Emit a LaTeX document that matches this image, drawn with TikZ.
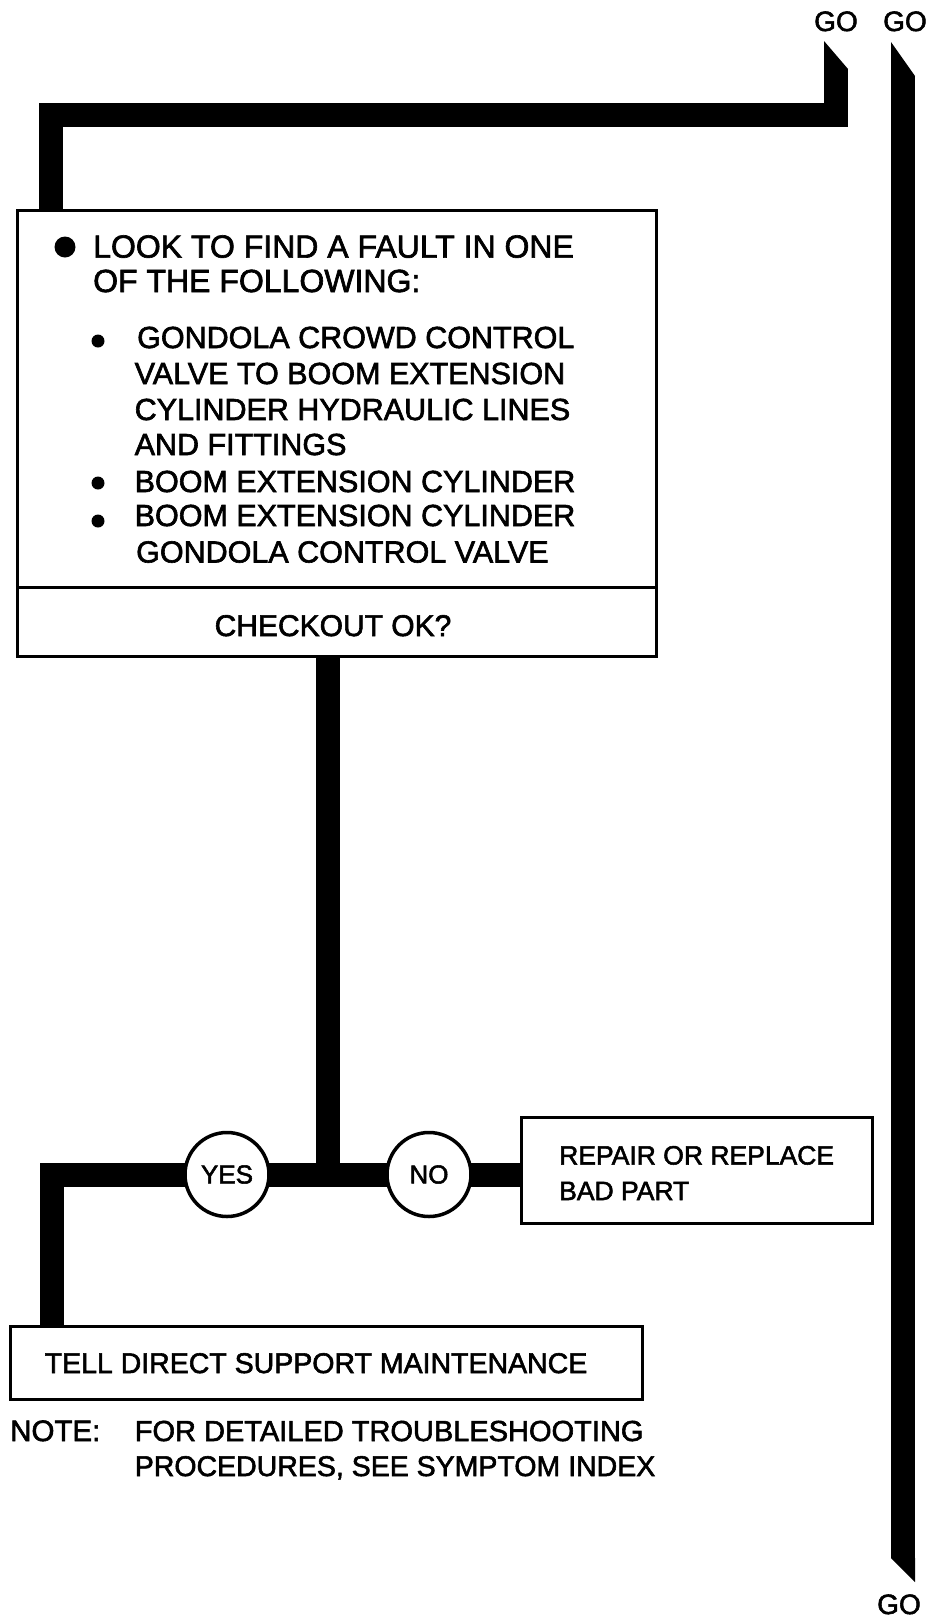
\documentclass[tikz,border=0pt]{standalone}
\usepackage{fontspec}
\setmainfont{Liberation Sans}[AutoFakeBold=2]
\usetikzlibrary{positioning,calc,backgrounds}
\tikzset{
  bar/.style={line width=24pt,line join=miter,line cap=butt},
  frame/.style={draw,line width=3pt,fill=white,inner sep=0pt},
  answer/.style={circle,draw,line width=3.5pt,fill=white,minimum size=84pt,inner sep=0pt,font=\fontsize{26}{30}\selectfont\bfseries},
  txt/.style={inner sep=0pt,anchor=base west,font=\fontsize{31}{36}\selectfont\bfseries},
  small/.style={inner sep=0pt,anchor=base west,font=\fontsize{28.5}{34}\selectfont\bfseries},
  gotxt/.style={inner sep=0pt,anchor=base,font=\fontsize{28}{32}\selectfont\bfseries},
}

\begin{document}
\begin{tikzpicture}[x=1pt,y=-1pt]
  \useasboundingbox (0,0) rectangle (937,1623);
  % boxes
  \node[frame,minimum width=639pt,minimum height=377pt] (look) at (336.5,398.5) {};
  \node[frame,minimum width=639pt,minimum height=69pt] (check) at (336.5,621.5) {};
  \node[frame,minimum width=351pt,minimum height=106pt] (repair) at (696.5,1170) {};
  \node[frame,minimum width=632pt,minimum height=73pt] (tell) at (326,1362.5) {};
  % yes / no
  \node[answer] (yes) at (227,1174.5) {YES};
  \node[answer] (no) at (429,1174.5) {NO};
  % go labels
  \node[gotxt] (goA) at (836,31) {GO};
  \node[gotxt] (goB) at (905,31) {GO};
  \node[gotxt] (goC) at (899,1614) {GO};
  % bends and bar ends
  \coordinate (tipA) at (836,69);
  \coordinate (elbowA) at (50.5,114.5);
  \coordinate (split) at (328,1174.5);
  \coordinate (elbowB) at (52,1174.5);
  \coordinate (tipB) at (903,76);
  \coordinate (tipC) at (903,1558);
  % thick flow bars
  \begin{scope}[on background layer]
    \draw[bar] (tipA) |- (elbowA) -- (elbowA |- look.north);
    \draw[bar] (check.south -| split) -- (split);
    \draw[bar] (elbowB |- tell.north) |- (yes.center) -- (no.center) -- (repair.west |- no.center);
    \draw[bar] (tipB) -- (tipC);
  \end{scope}
  % slanted ends
  \fill ($(tipA)+(-12,0)$) -- ++(0,-28) -- ($(tipA)+(12,0)$) -- cycle;
  \fill ($(tipB)+(-12,0)$) -- ++(0,-34) -- ($(tipB)+(12,0)$) -- cycle;
  \fill ($(tipC)+(-12,0)$) -- ($(tipC)+(12,0)$) -- ++(0,24) -- cycle;
  % main box text
  \fill (65,247) circle (10.5pt);
  \foreach \y/\t [count=\i] in {257.6/LOOK TO FIND A FAULT IN ONE, 292/OF THE FOLLOWING:}
    \node[txt,font=\fontsize{32}{36}\selectfont\bfseries] (head\i) at (93,\y) {\t};
  \foreach \p in {341,483,521} \fill (98,\p) circle (6.5pt);
  \foreach \x/\y/\t [count=\i] in {137/348/GONDOLA CROWD CONTROL, 134.5/384/VALVE TO BOOM EXTENSION,
      134.5/420/CYLINDER HYDRAULIC LINES, 134.5/455/AND FITTINGS, 134.5/492/BOOM EXTENSION CYLINDER,
      134.5/526/BOOM EXTENSION CYLINDER, 136/562.5/GONDOLA CONTROL VALVE}
    \node[txt,font=\fontsize{30.5}{36}\selectfont\bfseries] (item\i) at (\x,\y) {\t};
  \node[txt,anchor=base,font=\fontsize{30}{36}\selectfont\bfseries] (ok) at (333,636) {CHECKOUT OK?};
  % other texts
  \node[txt,font=\fontsize{26.5}{32}\selectfont\bfseries] (rep1) at (559,1164.5) {REPAIR OR REPLACE};
  \node[txt,font=\fontsize{26.5}{32}\selectfont\bfseries] (rep2) at (559,1200) {BAD PART};
  \node[small] (telltxt) at (44.5,1373) {TELL DIRECT SUPPORT MAINTENANCE};
  \node[small,font=\fontsize{29.5}{34}\selectfont\bfseries] (note) at (10,1441) {NOTE:};
  \node[small,font=\fontsize{29}{34}\selectfont\bfseries] (note1) at (134.6,1441) {FOR DETAILED TROUBLESHOOTING};
  \node[small] (note2) at (134.6,1476) {PROCEDURES, SEE SYMPTOM INDEX};
\end{tikzpicture}
\end{document}
